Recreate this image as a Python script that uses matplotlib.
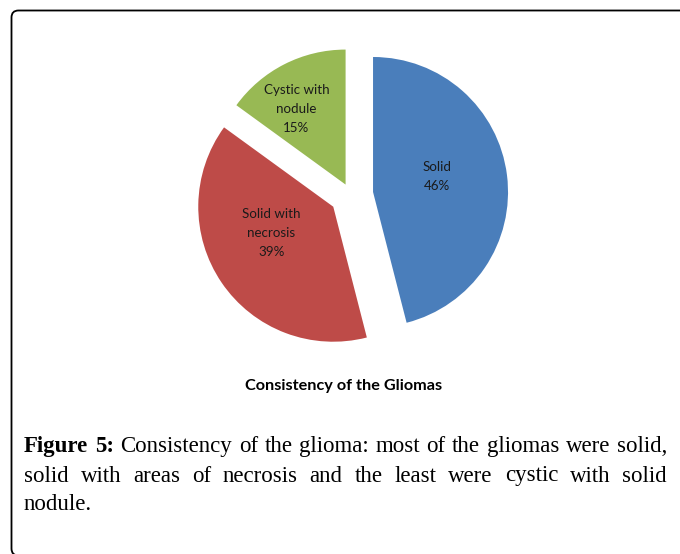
import numpy as np
import matplotlib.pyplot as plt
from matplotlib.patches import FancyBboxPatch

# slice data
categories = ["Solid", "Solid with\nnecrosis", "Cystic with\nnodule"]
shares = [46, 39, 15]
slice_colors = ["#4A7EBB", "#BE4B48", "#98B954"]
explode = [0.166, 0.157, 0.085]  # fraction of radius

chart_title = "Consistency of the Gliomas"
caption_bold = ["Figure", "5:"]
caption_lines = [
    "Consistency of the glioma: most of the gliomas were solid,",
    "solid with areas of necrosis and the least were cystic with solid",
    "nodule.",
]

# label placement inside each wedge (fraction of radius, angle shift in deg)
label_r = [0.49, 0.50, 0.67]
label_dang = [6, -11, 6]

W, H = 680, 554
fig = plt.figure(figsize=(W / 100, H / 100), dpi=100)
ax = fig.add_axes([0, 0, 1, 1])

R = 135
cx, cy = 350.8, H - 194.8
# pie's explode is in data units, so scale by the radius
wedges, _ = ax.pie(shares, explode=[e * R for e in explode], colors=slice_colors,
                   startangle=90, counterclock=False, radius=R, center=(cx, cy),
                   wedgeprops=dict(linewidth=0))
ax.set_xlim(0, W)
ax.set_ylim(0, H)
ax.set_aspect('auto')
ax.axis('off')

for w, lab, pct, fr, da in zip(wedges, categories, shares, label_r, label_dang):
    mid = np.deg2rad((w.theta1 + w.theta2) / 2 + da)
    x0, y0 = w.center
    ax.text(x0 + R * fr * np.cos(mid), y0 + R * fr * np.sin(mid), f"{lab}\n{pct}%",
            ha='center', va='center', fontsize=9.6, family='Lato',
            color='#1a1a1a', linespacing=1.7)

ax.text(344, H - 385.6, chart_title, ha='center', va='center', fontsize=11.7,
        family='Lato', fontweight='bold', color='black')

# outer rounded frame (runs off the right/bottom edge)
ax.add_patch(FancyBboxPatch((11.5, -1.5), 800, H - 10.5 + 1.5,
                            boxstyle='round,pad=0,rounding_size=7',
                            fill=False, ec='black', lw=1.3, clip_on=False))

# caption, justified like the source
rend = fig.canvas.get_renderer()
cap_size = 16.5
left, right = 24, 667
base_y = [H - 452, H - 481.5, H - 510.5]
space_w = cap_size * 100 / 72 * 0.25

for i, (line, yb) in enumerate(zip(caption_lines, base_y)):
    words = line.split()
    bold = []
    if i == 0:
        words = caption_bold + words
        bold = caption_bold
    items = []
    for k, wd in enumerate(words):
        t = ax.text(0, yb, wd, fontsize=cap_size, family='Liberation Serif',
                    fontweight='bold' if k < len(bold) else 'normal',
                    ha='left', va='baseline', color='black')
        items.append((t, t.get_window_extent(rend).width))
    total = sum(wd for _, wd in items)
    gap = (right - left - total) / (len(items) - 1) if i < 2 else space_w
    x = left
    for t, wd in items:
        t.set_x(x)
        x += wd + gap

fig.savefig("out.png", dpi=100)
